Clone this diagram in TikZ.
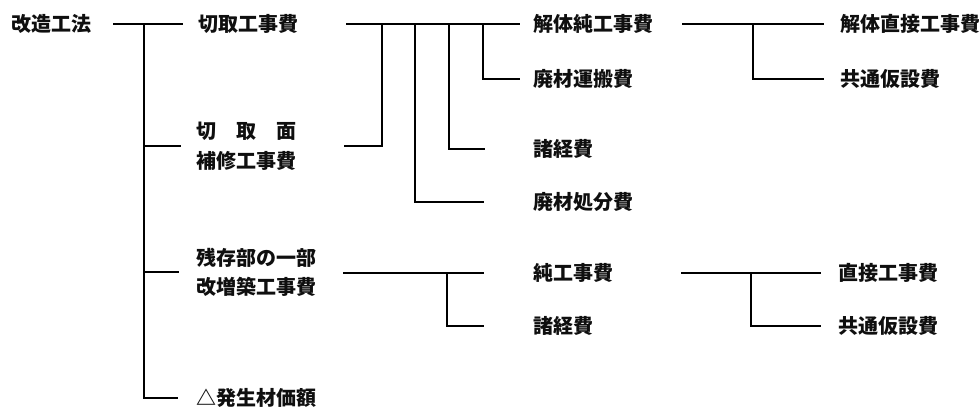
\documentclass[tikz,border=0pt]{standalone}
\usepackage{fontspec}
\setmainfont{Noto Sans CJK JP}
\begin{document}
\begin{tikzpicture}[x=1pt,y=1pt,
  tree/.style={draw=drawColor,line width=2pt,line join=miter,line cap=rect},
  item/.style={text=textColor,anchor=west,inner sep=0pt,outer sep=0pt,align=left,
    font=\fontsize{20}{30}\selectfont\bfseries}]
\definecolor{fillColor}{RGB}{255,255,255}
\definecolor{drawColor}{RGB}{0,0,0}
\definecolor{textColor}{RGB}{15,15,15}
\path[use as bounding box,fill=fillColor] (0,0) rectangle (980,412);

% first level
\node[item] (root) at ( 12,388) {改造工法};
\node[item] (cut) at (198,388) {切取工事費};
\node[item] (repair) at (196,266) {切\quad 取\quad 面\\補修工事費};
\node[item,font=\fontsize{20}{29}\selectfont\bfseries] (rebuild) at (196,140) {残存部の一部\\改増築工事費};
\node[item] (salvage) at (196, 14) {△発生材価額};

% second level
\node[item] (demo) at (533,388) {解体純工事費};
\node[item] (haul) at (533,333) {廃材運搬費};
\node[item] (misc) at (533,263) {諸経費};
\node[item] (dispose) at (533,210) {廃材処分費};
\node[item] (net) at (533,139) {純工事費};
\node[item] (misc2) at (533, 86) {諸経費};

% third level
\node[item] (demodirect) at (840,388) {解体直接工事費};
\node[item] (common) at (840,333) {共通仮設費};
\node[item] (direct) at (838,139) {直接工事費};
\node[item] (common2) at (838, 86) {共通仮設費};

% junctions
\coordinate (spine) at (144,388);
\coordinate (cutR) at (347,388);
\coordinate (repairR) at (345,266);
\coordinate (k1) at (382,388);
\coordinate (k2) at (415,388);
\coordinate (k3) at (449,388);
\coordinate (k4) at (483,388);
\coordinate (rebuildR) at (344,139);
\coordinate (n1) at (447,139);
\coordinate (demoR) at (683,388);
\coordinate (f1) at (753,388);
\coordinate (netR) at (682,139);
\coordinate (g1) at (751,139);

\draw[tree] ([xshift=22pt]root.east) -- ([xshift=-16pt]cut.west);
\draw[tree] ([xshift=-16pt]repair.west) -| (spine);
\draw[tree] ([xshift=-18pt]rebuild.west) -| (spine);
\draw[tree] ([xshift=-19pt]salvage.west) -| (spine);

\draw[tree] (cutR) -- ([xshift=-14pt]demo.west);
\draw[tree] (repairR) -| (k1);
\draw[tree] ([xshift=-50pt]dispose.west) -| (k2);
\draw[tree] ([xshift=-49pt]misc.west) -| (k3);
\draw[tree] ([xshift=-14pt]haul.west) -| (k4);

\draw[tree] (rebuildR) -- ([xshift=-50pt]net.west);
\draw[tree] ([xshift=-50pt]misc2.west) -| (n1);

\draw[tree] (demoR) -- ([xshift=-17pt]demodirect.west);
\draw[tree] ([xshift=-17pt]common.west) -| (f1);
\draw[tree] (netR) -- ([xshift=-18pt]direct.west);
\draw[tree] ([xshift=-18pt]common2.west) -| (g1);
\end{tikzpicture}
\end{document}
